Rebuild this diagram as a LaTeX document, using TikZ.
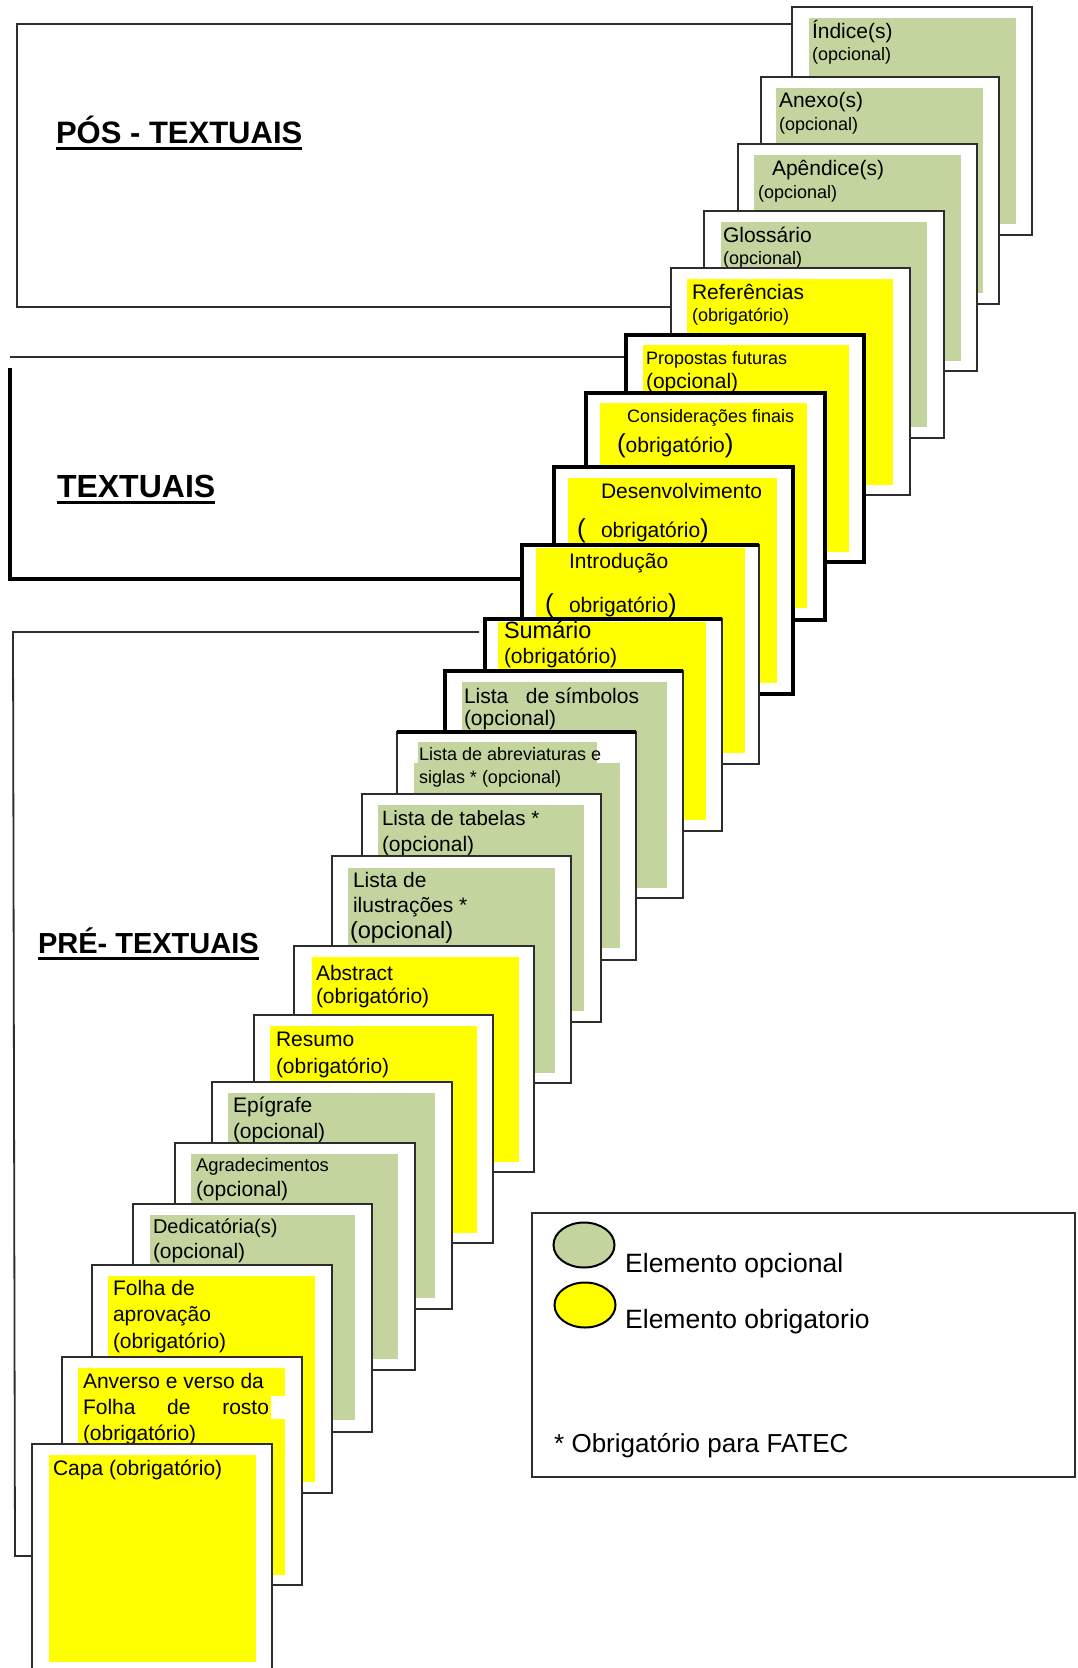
\documentclass[tikz,border=0pt]{standalone}
\usepackage{fontspec}
\setmainfont{Liberation Sans}
\usetikzlibrary{shapes.geometric}
\definecolor{optgreen}{RGB}{196,212,158}
\definecolor{reqyellow}{RGB}{255,255,0}
\definecolor{rulegray}{RGB}{45,45,45}
\newcommand\fs[1]{\fontsize{#1}{#1}\selectfont}
\tikzset{
  sheet/.style={fill=white, draw=rulegray, line width=1.8pt},
  sheetbold/.style={fill=white, draw=black, line width=3.6pt},
  edgebold/.style={draw=black, line width=3.6pt},
  optfill/.style={fill=optgreen},
  reqfill/.style={fill=reqyellow},
  lbl/.style={anchor=base west, inner sep=0pt, outer sep=0pt, font=\fs{21}},
  lblsm/.style={lbl, font=\fs{18}},
  heading/.style={anchor=base west, inner sep=0pt, outer sep=0pt},
  bracket/.style={draw=rulegray, line width=1.8pt},
  bracketbold/.style={draw=black, line width=3.6pt},
  underbar/.style={draw=black, line width=3pt},
  keymark/.style={ellipse, draw=black, line width=2pt, minimum width=61pt, minimum height=45pt, inner sep=0pt},
  keytext/.style={anchor=base west, inner sep=0pt, font=\fs{26.5}},
}
\begin{document}
\begin{tikzpicture}[x=1pt,y=-1pt]
\useasboundingbox (0,0) rectangle (1077,1668);
\fill[white] (0,0) rectangle (1077,1668);

% ---- group brackets ----
\coordinate (posTL) at (17,24);
\coordinate (posBL) at (17,307);
\coordinate (posTR) at (792,24);
\coordinate (posBR) at (671,307);
\draw[bracket] (posTR) -- (posTL) -- (posBL) -- (posBR);

\coordinate (txtT) at (10,357);
\coordinate (txtTR) at (626,357);
\coordinate (txtL) at (10,368);
\coordinate (txtBL) at (10,579);
\coordinate (txtBR) at (522,579);
\draw[bracket] (txtT) -- (txtTR);
\draw[bracketbold] (txtL) -- (txtBL) -- (txtBR);

\coordinate (preTR) at (479,632);
\coordinate (preTL) at (13,632);
\coordinate (preBL) at (15,1556);
\coordinate (preBR) at (32,1556);
\draw[bracket] (preTR) -- (preTL) -- (preBL) -- (preBR);

% ---- headings ----
\node[heading, font=\bfseries\fs{31}] (hpos) at (56,143) {PÓS - TEXTUAIS};
\draw[underbar] ([yshift=-5pt]hpos.base west) -- ([yshift=-5pt]hpos.base east);
\node[heading, font=\bfseries\fs{32}] (htxt) at (57,497) {TEXTUAIS};
\draw[underbar] ([yshift=-5pt]htxt.base west) -- ([yshift=-5pt]htxt.base east);
\node[heading, font=\bfseries\fs{29}] (hpre) at (38,953) {PRÉ- TEXTUAIS};
\draw[underbar] ([yshift=-5pt]hpre.base west) -- ([yshift=-5pt]hpre.base east);

% ---- post-textual sheets ----
\draw[sheet] (792,7) rectangle (1032,235);
\fill[optfill] (809,18) rectangle (1016,224);
\node[lbl] (indice) at (812,38) {Índice(s)};
\node[lblsm] (indiceb) at (812,60) {(opcional)};

\draw[sheet] (761,77) rectangle (999,304);
\fill[optfill] (776,88) rectangle (983,293);
\node[lbl] (anexo) at (779,107) {Anexo(s)};
\node[lblsm] (anexob) at (779,130) {(opcional)};

\draw[sheet] (738,144) rectangle (977,371);
\fill[optfill] (754,155) rectangle (961,361);
\node[lbl] (apendice) at (772,175) {Apêndice(s)};
\node[lblsm] (apendiceb) at (758,198) {(opcional)};

\draw[sheet] (704,211) rectangle (944,438);
\fill[optfill] (721,222) rectangle (927,427);
\node[lbl] (glossario) at (723,242) {Glossário};
\node[lblsm] (glossariob) at (723,264) {(opcional)};

\draw[sheet] (671,268) rectangle (910,495);
\fill[reqfill] (687,279) rectangle (893,485);
\node[lbl] (refs) at (692,299) {Referências};
\node[lblsm] (refsb) at (692,321) {(obrigatório)};

% ---- textual sheets ----
\draw[sheetbold] (626,335) rectangle (864,562);
\fill[reqfill] (643,345) rectangle (849,552);
\node[lblsm] (propostas) at (646,364) {Propostas futuras};
\node[lbl] (propostasb) at (646,388) {(opcional)};

\draw[sheetbold] (586,393) rectangle (825,620);
\fill[reqfill] (600,403) rectangle (807,608);
\node[lblsm] (consid) at (627,422) {Considerações finais};
\node[lbl] (considb) at (617,452) {{\fs{26}(}obrigatório{\fs{26})}};

\draw[sheetbold] (554,467) rectangle (793,694);
\fill[reqfill] (568,478) rectangle (777,683);
\node[lbl] (desenv) at (601,498) {Desenvolvimento};
\node[lbl, font=\fs{26}] (desenvp) at (577,537) {(};
\node[lbl] (desenvb) at (601,537) {obrigatório{\fs{26})}};

\draw[sheet] (522,545) rectangle (759,764);
\draw[edgebold] (522,764) -- (522,545) -- (759,545);
\fill[reqfill] (536,548) rectangle (745,753);
\node[lbl] (intro) at (569,568) {Introdução};
\node[lbl, font=\fs{26}] (introp) at (545,612) {(};
\node[lbl] (introb) at (569,612) {obrigatório{\fs{26})}};

% ---- pre-textual sheets ----
\draw[sheet] (485,619) rectangle (722,831);
\draw[edgebold] (485,831) -- (485,619) -- (722,619);
\fill[reqfill] (498,622) rectangle (706,820);
\node[lbl, font=\fs{23.5}] (sumario) at (504,638) {Sumário};
\node[lbl] (sumariob) at (504,663) {(obrigatório)};

\draw[sheet] (445,671) rectangle (683,898);
\draw[edgebold] (445,898) -- (445,671) -- (683,671);
\fill[optfill] (462,682) rectangle (667,888);
\node[lbl] (simbolos) at (464,703) {Lista\ \ \ de símbolos};
\node[lbl] (simbolosb) at (464,725) {(opcional)};

\draw[sheet] (397,732) rectangle (636,960);
\draw[edgebold] (397,732) -- (636,732);
\fill[optfill] (418,742) rectangle (597,763);
\fill[optfill] (414,763) rectangle (620,948);
\node[lblsm] (abrev) at (419,760) {Lista de abreviaturas e};
\node[lblsm] (abrevb) at (419,783) {siglas * (opcional)};

\draw[sheet] (362,794) rectangle (601,1022);
\fill[optfill] (378,805) rectangle (584,1011);
\node[lbl, font=\fs{20.5}] (tabelas) at (382,825) {Lista de tabelas *};
\node[lbl] (tabelasb) at (382,851) {(opcional)};

\draw[sheet] (332,856) rectangle (571,1083);
\fill[optfill] (348,868) rectangle (555,1073);
\node[lbl] (ilustr) at (353,887) {Lista de};
\node[lbl] (ilustrb) at (353,912) {ilustrações *};
\node[lbl, font=\fs{23.5}] (ilustrc) at (350,938) {(opcional)};

\draw[sheet] (294,946) rectangle (534,1172);
\fill[reqfill] (312,957) rectangle (519,1162);
\node[lbl] (abstract) at (316,980) {Abstract};
\node[lbl] (abstractb) at (316,1003) {(obrigatório)};

\draw[sheet] (254,1015) rectangle (493,1243);
\fill[reqfill] (270,1026) rectangle (477,1233);
\node[lbl] (resumo) at (276,1046) {Resumo};
\node[lbl] (resumob) at (276,1073) {(obrigatório)};

\draw[sheet] (212,1082) rectangle (452,1309);
\fill[optfill] (228,1093) rectangle (435,1298);
\node[lbl] (epigrafe) at (233,1112) {Epígrafe};
\node[lbl] (epigrafeb) at (233,1138) {(opcional)};

\draw[sheet] (175,1143) rectangle (415,1370);
\fill[optfill] (191,1154) rectangle (398,1359);
\node[lbl, font=\fs{18.4}] (agradec) at (196,1171) {Agradecimentos};
\node[lbl] (agradecb) at (196,1196) {(opcional)};

\draw[sheet] (133,1204) rectangle (372,1432);
\fill[optfill] (150,1215) rectangle (355,1420);
\node[lbl, font=\fs{20}] (dedic) at (153,1233) {Dedicatória(s)};
\node[lbl] (dedicb) at (153,1258) {(opcional)};

\draw[sheet] (92,1265) rectangle (332,1493);
\fill[reqfill] (108,1276) rectangle (315,1482);
\node[lbl] (folha) at (113,1295) {Folha de};
\node[lbl] (folhab) at (113,1321) {aprovação};
\node[lbl] (folhac) at (113,1348) {(obrigatório)};

\draw[sheet] (62,1357) rectangle (302,1585);
\fill[reqfill] (78,1368) rectangle (285,1575);
\fill[white] (271,1396) rectangle (286,1419);
\node[lbl] (anverso) at (83,1388) {Anverso e verso da};
\node[lbl] (anversob) at (83,1414) {\hbox to 186pt{Folha\hfill de\hfill rosto}};
\node[lbl] (anversoc) at (83,1440) {(obrigatório)};

\draw[sheet] (32,1444) rectangle (272,1700);
\fill[reqfill] (49,1455) rectangle (256,1662);
\node[lbl] (capa) at (53,1475) {Capa (obrigatório)};

% ---- key ----
\draw[draw=rulegray, line width=1.6pt] (532,1213) rectangle (1075,1477);
\node[keymark, fill=optgreen] (keyopt) at (584,1245) {};
\node[keymark, fill=reqyellow] (keyreq) at (585,1305) {};
\node[keytext] (keyopttext) at (625,1272) {Elemento opcional};
\node[keytext] (keyreqtext) at (625,1328) {Elemento obrigatorio};
\node[keytext, font=\fs{26}] (keynote) at (554,1452) {* Obrigatório para FATEC};
\end{tikzpicture}
\end{document}
